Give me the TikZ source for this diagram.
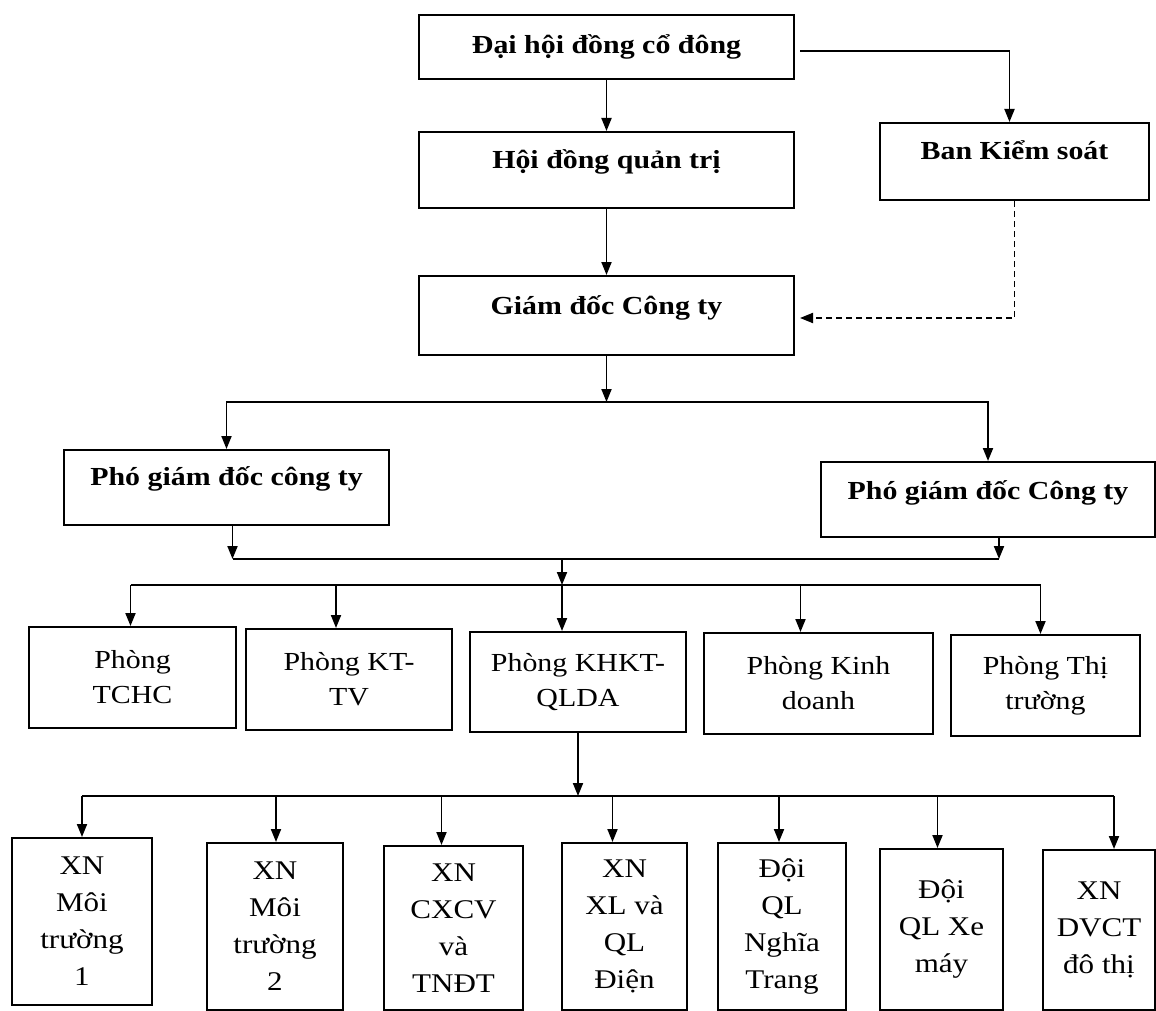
\documentclass[tikz,border=0pt]{standalone}
\usepackage{fontspec}
\setmainfont[FakeStretch=1.15]{Liberation Serif}
\usetikzlibrary{arrows.meta,calc}
\begin{document}
\begin{tikzpicture}[x=1pt,y=-1pt,
  box/.style={draw, line width=2pt, inner sep=0pt, anchor=center},
  bbox/.style={box, font=\fontsize{26}{30}\selectfont\bfseries, text height=20pt},
  pbox/.style={box, font=\fontsize{26}{35}\selectfont, align=center},
  xbox/.style={box, font=\fontsize{27}{37}\selectfont, align=center},
  conn/.style={line width=1.9pt},
  arr/.style={conn, -{Triangle[length=13pt,width=10pt]}},
  darr/.style={conn, dash pattern=on 6pt off 4pt, -{Triangle[length=13pt,width=10pt]}}]
\useasboundingbox (0,0) rectangle (1156,1011);

% top level boxes
\node[bbox, minimum width=375pt, minimum height=64pt, text depth=6pt]  (dh)  at (606.5,47)    {Đại hội đồng cổ đông};
\node[bbox, minimum width=375pt, minimum height=76pt, text depth=22pt] (hd)  at (606.5,170)   {Hội đồng quản trị};
\node[bbox, minimum width=269pt, minimum height=77pt, text depth=24pt] (bks) at (1014.5,161.5) {Ban Kiểm soát};
\node[bbox, minimum width=375pt, minimum height=79pt, text depth=22pt] (gd)  at (606.5,315.5) {Giám đốc Công ty};
\node[bbox, minimum width=325pt, minimum height=75pt, text depth=24pt] (pl)  at (226.5,487.5) {Phó giám đốc công ty};
\node[bbox, minimum width=334pt, minimum height=75pt, text depth=20pt] (pr)  at (988,499.5)   {Phó giám đốc Công ty};

% departments
\node[pbox, minimum width=207pt, minimum height=101pt] (ph1) at (132.5,677.5) {Phòng\\TCHC};
\node[pbox, minimum width=206pt, minimum height=101pt] (ph2) at (349,679.5)   {Phòng KT-\\TV};
\node[pbox, minimum width=216pt, minimum height=100pt] (ph3) at (578,682)     {Phòng KHKT-\\QLDA};
\node[pbox, minimum width=229pt, minimum height=101pt] (ph4) at (818.5,683.5) {Phòng Kinh\\doanh};
\node[pbox, minimum width=189pt, minimum height=101pt] (ph5) at (1045.5,685.5) {Phòng Thị\\trường};

% units
\node[xbox, minimum width=140pt, minimum height=167pt] (x1) at (82,921.5)    {XN\\Môi\\trường\\1};
\node[xbox, minimum width=136pt, minimum height=167pt] (x2) at (275,926.5)   {XN\\Môi\\trường\\2};
\node[xbox, minimum width=139pt, minimum height=164pt] (x3) at (453.5,928)   {XN\\CXCV\\và\\TNĐT};
\node[xbox, minimum width=125pt, minimum height=167pt] (x4) at (624.5,926.5) {XN\\XL và\\QL\\Điện};
\node[xbox, minimum width=128pt, minimum height=167pt] (x5) at (782,926.5)   {Đội\\QL\\Nghĩa\\Trang};
\node[xbox, minimum width=123pt, minimum height=161pt] (x6) at (941.5,929.5) {Đội\\QL Xe\\máy};
\node[xbox, minimum width=112pt, minimum height=160pt] (x7) at (1099,930)    {XN\\DVCT\\đô thị};

% top connectors
\draw[arr] (dh) -- (hd);
\draw[arr] ([xshift=5pt,yshift=-4pt]dh.east) -| ([xshift=-5pt]bks.north);
\draw[arr] (hd) -- (gd);
\draw[darr] (bks.south) |- ([xshift=5pt,yshift=-2.5pt]gd.east);

% director to deputies
\coordinate (b1) at (606.5,402);
\draw[arr] (gd) -- (b1);
\draw[arr] (b1) -| (pl.north);
\draw[arr] (b1) -| (pr.north);

% deputies to departments
\coordinate (b2) at (562,559);
\coordinate (b3) at (562,585);
\coordinate (pls) at ([xshift=6pt]pl.south);
\coordinate (prs) at ([xshift=11pt]pr.south);
\draw[arr] (pls) -- (pls |- b2);
\draw[arr] (prs) -- (prs |- b2);
\draw[conn] (pls |- b2) -- (prs |- b2);
\draw[arr] (b2) -- (b3);
\coordinate (t1) at ([xshift=-2pt]ph1.north);
\coordinate (t2) at ([xshift=-13pt]ph2.north);
\coordinate (t3) at ([xshift=-16pt]ph3.north);
\coordinate (t4) at ([xshift=-18pt]ph4.north);
\coordinate (t5) at ([xshift=-5pt]ph5.north);
\draw[conn] (t1 |- b3) -- (t5 |- b3);
\foreach \t in {t1,t2,t3,t4,t5} \draw[arr] (\t |- b3) -- (\t);

% KHKT-QLDA to units
\coordinate (b4) at (577,796);
\coordinate (u1) at (x1.north);
\coordinate (u2) at ([xshift=1pt]x2.north);
\coordinate (u3) at ([xshift=-12pt]x3.north);
\coordinate (u4) at ([xshift=-12pt]x4.north);
\coordinate (u5) at ([xshift=-3pt]x5.north);
\coordinate (u6) at ([xshift=-4pt]x6.north);
\coordinate (u7) at ([xshift=15pt]x7.north);
\draw[arr] (ph3.south) -- (ph3.south |- b4);
\draw[conn] (u1 |- b4) -- (u7 |- b4);
\foreach \u in {u1,u2,u3,u4,u5,u6,u7} \draw[arr] (\u |- b4) -- (\u);
\end{tikzpicture}
\end{document}
